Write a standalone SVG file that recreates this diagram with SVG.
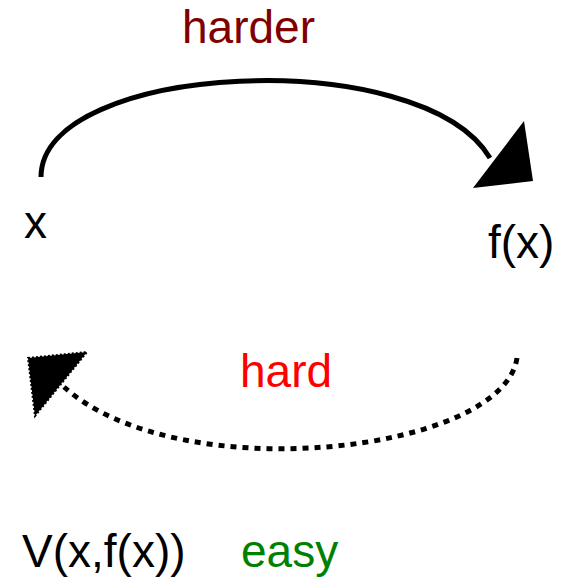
<svg xmlns="http://www.w3.org/2000/svg" width="572" height="581" viewBox="0 0 572 581">
<style>
text{font-family:"Liberation Sans",Arial,sans-serif;font-size:46px;fill:#000}
.conn{fill:none;stroke:#000;stroke-width:5}
.dot{stroke-dasharray:6 6}
.head{fill:#000}
</style>
<rect width="572" height="581" fill="#fff"/>
<g id="connectors">
<path class="conn" d="M41,177 C41,62 421,43 490,158"/>
<polygon class="head" points="524,121 533,181 473,188"/>
<path class="conn dot" d="M517,358 C503,453 179,490 64,387"/>
<polygon class="head" points="28,358 87,352 35,416" stroke="#000" stroke-width="2" stroke-dasharray="2 2"/>
</g>
<g id="node-x"><text x="24" y="238">x</text></g>
<g id="node-fx"><text x="488" y="258">f(x)</text></g>
<g id="node-v"><text x="22" y="567">V(x,f(x))</text></g>
<g id="label-harder"><text x="182" y="43" style="fill:#800000">harder</text></g>
<g id="label-hard"><text x="240" y="387" style="fill:#ff0000">hard</text></g>
<g id="label-easy"><text x="241" y="567" style="fill:#008000">easy</text></g>
</svg>
